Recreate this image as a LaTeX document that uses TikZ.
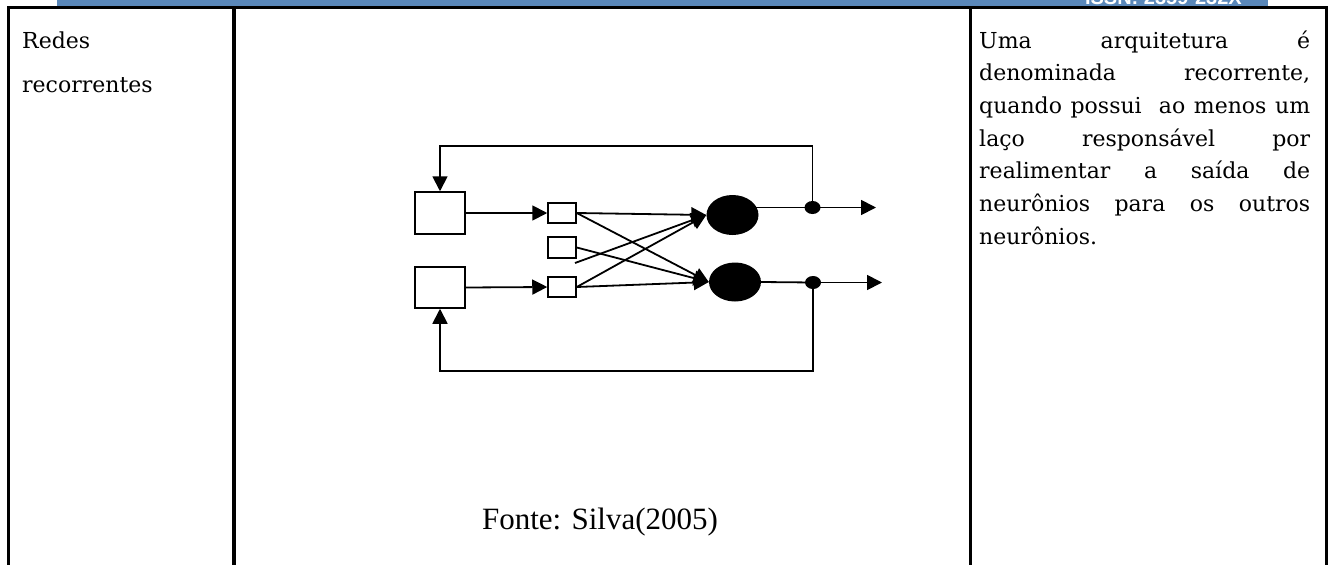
\documentclass[tikz,border=0pt]{standalone}
\usepackage{fontspec}
\setmainfont{DejaVu Serif}
\newfontfamily\timesfont{Liberation Serif}
\newfontfamily\barfont{Liberation Sans}
\usetikzlibrary{arrows.meta,shapes.geometric}
\definecolor{barblue}{RGB}{90,136,186}
\begin{document}
\begin{tikzpicture}[x=1pt,y=-1pt,
  cell/.style={font=\fontsize{22}{26}\selectfont, inner sep=0pt},
  grid/.style={line width=3.3pt, line join=miter},
  inbox/.style={draw, line width=1.5pt, rectangle, minimum width=50pt, minimum height=42pt, inner sep=0pt},
  smallbox/.style={draw, line width=1.5pt, rectangle, minimum width=28pt, minimum height=20pt, inner sep=0pt},
  neuron/.style={ellipse, fill=black, minimum width=52pt, minimum height=40pt, inner sep=0pt},
  junction/.style={ellipse, fill=black, minimum width=16pt, minimum height=13pt, inner sep=0pt},
  wire/.style={line width=1.8pt},
  arr/.style={wire, -{Triangle[length=15pt,width=15pt]}}]
\useasboundingbox (0,0) rectangle (1331,565);
\fill[white] (0,0) rectangle (1331,565);

% header strip with its clipped caption
\begin{scope}
  \clip (57,0) rectangle (1268,6);
  \fill[barblue] (57,0) rectangle (1268,6);
  \node[anchor=base east, text=white, inner sep=0pt, font=\barfont\bfseries\fontsize{20}{24}\selectfont] (issn) at (1242,4.5) {ISSN: 2359-232X};
\end{scope}

% table rules
\draw[grid] (8.3,565) -- (8.3,7.5) -- (1326.5,7.5) -- (1326.5,565);
\draw[grid] (234,7.5) -- (234,565);
\draw[grid] (970.5,7.5) -- (970.5,565);

% left cell
\node[cell, anchor=base west] (r1) at (22,48) {Redes};
\node[cell, anchor=base west] (r2) at (22,92) {recorrentes};

% right cell, justified lines
\node[cell, anchor=base west] (d1) at (979,48) {\hbox to 331pt{Uma\hfill arquitetura\hfill é}};
\node[cell, anchor=base west] (d2) at (979,80.7) {\hbox to 331pt{denominada\hfill recorrente,}};
\node[cell, anchor=base west] (d3) at (979,113.4) {\hbox to 331pt{quando possui\ \ ao menos um}};
\node[cell, anchor=base west] (d4) at (979,146.1) {\hbox to 331pt{laço\hfill responsável\hfill por}};
\node[cell, anchor=base west] (d5) at (979,178.8) {\hbox to 331pt{realimentar\hfill a\hfill saída\hfill de}};
\node[cell, anchor=base west] (d6) at (979,211.5) {\hbox to 331pt{neurônios\hfill para\hfill os\hfill outros}};
\node[cell, anchor=base west] (d7) at (979,244.2) {neurônios.};

% source line
\node[anchor=base, inner sep=0pt, font=\timesfont\fontsize{31}{36}\selectfont] (fonte) at (600,529) {Fonte: Silva(2005)};

% recurrent network
\node[inbox] (in1) at (440,213) {};
\node[inbox, minimum height=41pt] (in2) at (440,287.5) {};
\node[smallbox] (s1) at (562,213) {};
\node[smallbox, minimum height=21pt] (s2) at (562,247.5) {};
\node[smallbox] (s3) at (562,287) {};
\node[neuron] (n1) at (732.5,215) {};
\node[neuron, minimum height=39pt] (n2) at (735,282) {};
\node[junction] (j1) at (812.5,207.5) {};
\node[junction] (j2) at (813,282.5) {};
\coordinate (o1) at (876,207.5);
\coordinate (o2) at (882,282.5);
\coordinate (t1) at (440,146);
\coordinate (t2) at (812.5,146);
\coordinate (b1) at (440,371);
\coordinate (b2) at (813,371);
\coordinate (loose) at (575,263);

\draw[arr] (in1.east) -- (s1.west);
\draw[arr] (in2.east) -- (s3.west);
\draw[arr] (s1.east) -- (n1.west);
\draw[arr] (s1.east) -- (n2.west);
\draw[arr] (s2.east) -- (n2.west);
\draw[arr] (loose) -- (n1.west);
\draw[arr] (s3.east) -- (n1.west);
\draw[arr] (s3.east) -- (n2.west);

\draw[wire] (j1.center -| n1.east) ++(-3,0) -- (j1.center);
\draw[arr] (j1.center) -- (o1);
\draw[wire] (n2.east) -- (j2.center);
\draw[arr] (j2.center) -- (o2);

\draw[arr] (j1.center) -- (t2) -- (t1) -- (in1.north);
\draw[arr] (j2.center) -- (b2) -- (b1) -- (in2.south);
\end{tikzpicture}
\end{document}
